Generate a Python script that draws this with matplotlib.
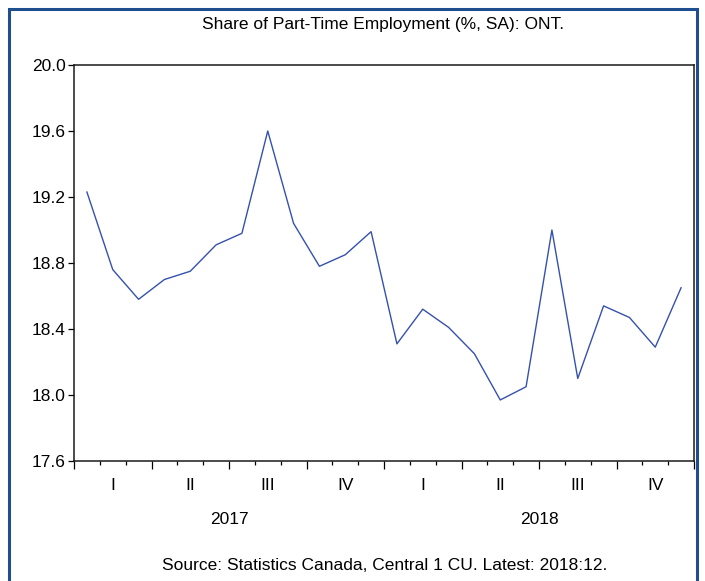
import matplotlib.pyplot as plt
from matplotlib.patches import Rectangle
import matplotlib.transforms as mtransforms

plt.rcParams['font.family'] = ['Liberation Sans', 'DejaVu Sans']

# monthly share of part-time employment, Ontario, 2017:01 - 2018:12
share = [19.23, 18.76, 18.58, 18.70, 18.75, 18.91, 18.98, 19.60, 19.04, 18.78, 18.85, 18.99,
         18.31, 18.52, 18.41, 18.25, 17.97, 18.05, 19.00, 18.10, 18.54, 18.47, 18.29, 18.65]
quarters = ['I', 'II', 'III', 'IV', 'I', 'II', 'III', 'IV']
years = ['2017', '2018']
yticks = [17.6, 18.0, 18.4, 18.8, 19.2, 19.6, 20.0]

fig = plt.figure(figsize=(7.05, 5.81), dpi=100)
ax = fig.add_axes([74 / 705, 1 - 461 / 581, 620 / 705, 396 / 581])

x = [i + 0.5 for i in range(len(share))]
ax.plot(x, share, color='#3551ad', lw=1.0)

ax.set_xlim(0, len(share))
ax.set_ylim(17.6, 20.0)
ax.set_yticks(yticks)
ax.set_yticklabels(['%.1f' % v for v in yticks], fontsize=12.5)
ax.set_xticks(range(0, len(share) + 1, 3))
ax.set_xticks(range(0, len(share) + 1), minor=True)
ax.set_xticklabels([])
ax.tick_params(axis='x', which='major', length=5.5, width=0.9, direction='out')
ax.tick_params(axis='x', which='minor', length=3, width=0.9, direction='out')
ax.tick_params(axis='y', length=4, width=0.9, direction='out', pad=2)
for s in ax.spines.values():
    s.set_linewidth(1.1)
    s.set_color('#1a1a1a')

trans = mtransforms.blended_transform_factory(ax.transData, ax.transAxes)
for k, q in enumerate(quarters):
    ax.text(3 * k + 1.5, -0.042, q, transform=trans, ha='center', va='top', fontsize=12.5)
for k, yr in enumerate(years):
    ax.text(12 * k + 6, -0.13, yr, transform=trans, ha='center', va='top', fontsize=12.5)

fig.text(383 / 705, 1 - 25 / 581, 'Share of Part-Time Employment (%, SA): ONT.',
         ha='center', va='center', fontsize=12.5)
fig.text(385 / 705, 1 - 566 / 581, 'Source: Statistics Canada, Central 1 CU. Latest: 2018:12.',
         ha='center', va='center', fontsize=12.5)

fig.patches.append(Rectangle((9 / 705, -0.02), 688 / 705, 1.02 - 9 / 581,
                             transform=fig.transFigure, fill=False,
                             edgecolor='#1d4f8f', lw=2.2))

fig.savefig('out.png', dpi=100)
